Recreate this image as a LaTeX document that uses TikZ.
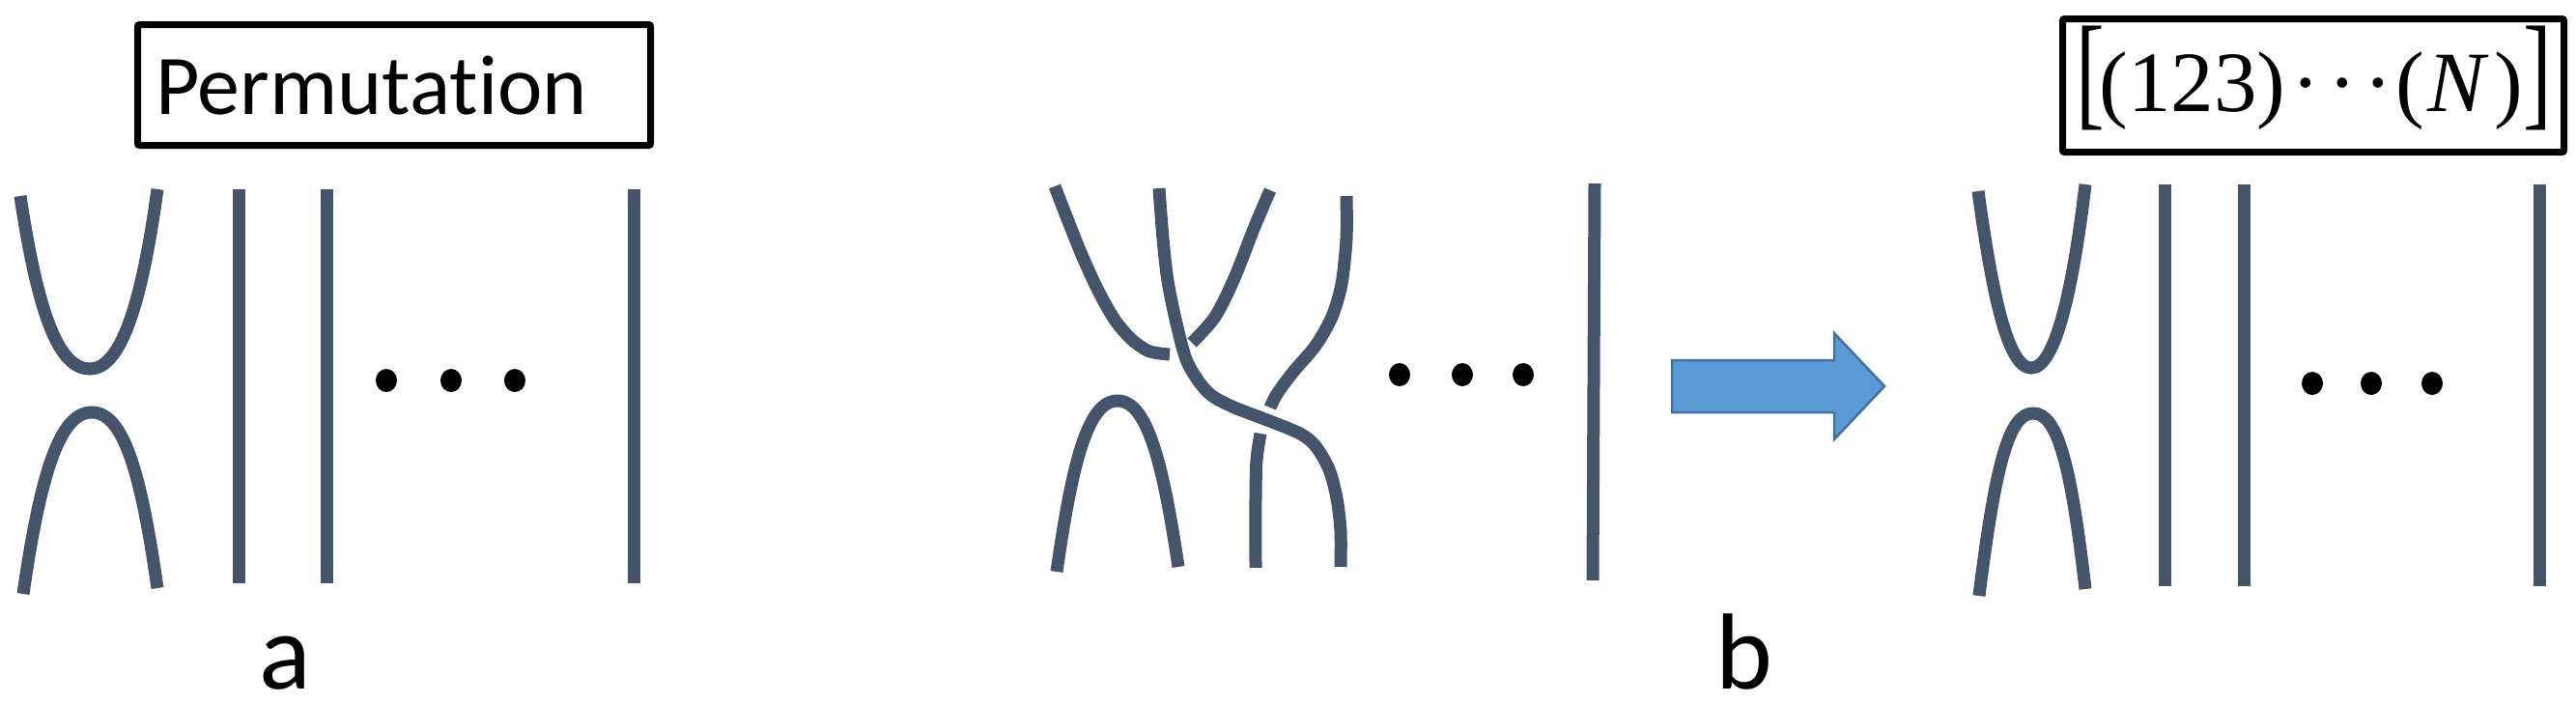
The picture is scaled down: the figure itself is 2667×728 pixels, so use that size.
\documentclass[tikz,border=0pt]{standalone}
\usepackage{fontspec}
\usepackage{graphicx}
\newfontfamily\calib[Ligatures={NoCommon},RawFeature={-liga;-dlig;-calt}]{Carlito}
\newfontfamily\tms{Liberation Serif}
\definecolor{strand}{HTML}{44546A}
\definecolor{arrowfill}{HTML}{5B9BD5}
\definecolor{arrowline}{HTML}{41719C}
\newcommand\brL{\raisebox{-2.5pt}{\scalebox{1}[1.466]{[}}}
\newcommand\brR{\raisebox{-2.5pt}{\scalebox{1}[1.466]{]}}}
\begin{document}
\begin{tikzpicture}[x=1pt,y=-1pt,
  strandline/.style={draw=strand,line width=13pt},
  boxline/.style={draw=black,line width=7pt,rounded corners=2pt},
  dotmark/.style={fill=black},
  labeltext/.style={font=\calib\fontsize{112}{120}\selectfont,anchor=base,inner sep=0pt,text depth=0pt}]
\useasboundingbox (0,0) rectangle (2667,728);

% ---------- panel a ----------
\draw[boxline] (142.5,25.5) rectangle (673.5,150.5);
\node[anchor=base west,inner sep=0pt,font=\calib\fontsize{88}{100}\selectfont] (perm) at (161,118) {Permutat\kern0pt ion};
\draw[strandline] (21,203) .. controls (40,330) and (62,382) .. (93,382) .. controls (124,382) and (146,320) .. (163,196);
\draw[strandline] (24,615) .. controls (42,490) and (62,427) .. (95,427) .. controls (128,427) and (146,490) .. (163,609);
\draw[strandline] (247,196) -- (247,604);
\draw[strandline] (338,196) -- (338,604);
\draw[strandline] (656,196) -- (656,604);
\fill[dotmark] (400,394) ellipse [x radius=11pt, y radius=12pt];
\fill[dotmark] (467,394) ellipse [x radius=11pt, y radius=12pt];
\fill[dotmark] (533,394) ellipse [x radius=11pt, y radius=12pt];
\node[labeltext] (la) at (295,713) {a};

% ---------- panel b ----------
\draw[strandline] plot[smooth] coordinates {(1092,193) (1104,224) (1120,264) (1137,301) (1154,331) (1171,351) (1188,363) (1201,366) (1211,367)};
\draw[strandline] plot[smooth] coordinates {(1315,197) (1298,237) (1278,288) (1258,328) (1234,355)};
\draw[strandline] plot[smooth] coordinates {(1394,203) (1394,247) (1389,294) (1379,328) (1362,358) (1339,385) (1322,408) (1315,422)};
\draw[strandline] plot[smooth] coordinates {(1305,449) (1301,476) (1300,516) (1300,588)};
\draw[strandline] plot[smooth] coordinates {(1200,195) (1204,247) (1209,291) (1218,335) (1228,372) (1241,395) (1255,410) (1278,422) (1312,435) (1346,449) (1362,462) (1376,486) (1384,516) (1388,550) (1388,587)};
\draw[strandline] (1094,592) .. controls (1110,480) and (1126,415) .. (1157,415) .. controls (1188,415) and (1204,480) .. (1220,587);
\draw[strandline] (1651,190) -- (1649,601);
\fill[dotmark] (1449,388) ellipse [x radius=11pt, y radius=12pt];
\fill[dotmark] (1514,388) ellipse [x radius=11pt, y radius=12pt];
\fill[dotmark] (1577,388) ellipse [x radius=11pt, y radius=12pt];
\node[labeltext] (lb) at (1806,713) {b};

% arrow
\draw[fill=arrowfill,draw=arrowline,line width=2.5pt,line join=miter] (1731,373) -- (1899,373) -- (1899,345) -- (1951,400) -- (1899,455) -- (1899,427) -- (1731,427) -- cycle;

% ---------- panel c ----------
\draw[boxline] (2135.5,19.5) rectangle (2654.5,157.5);
\node[anchor=base west,inner sep=0pt,font=\tms\fontsize{89}{100}\selectfont] (cyc) at (2149,115)
  {\brL\kern-5pt(123)\kern6pt\char"00B7\kern8pt\char"00B7\kern8pt\char"00B7\kern3pt(\kern3pt\textit{N}\kern6pt)\brR};
\draw[strandline] (2048,198) .. controls (2062,300) and (2078,381) .. (2103,381) .. controls (2128,381) and (2146,300) .. (2159,191);
\draw[strandline] (2049,617) .. controls (2066,480) and (2080,428) .. (2105,428) .. controls (2130,428) and (2144,480) .. (2159,610);
\draw[strandline] (2241,191) -- (2241,607);
\draw[strandline] (2323,191) -- (2323,607);
\draw[strandline] (2629,191) -- (2629,607);
\fill[dotmark] (2394,397) ellipse [x radius=11pt, y radius=12pt];
\fill[dotmark] (2455,397) ellipse [x radius=11pt, y radius=12pt];
\fill[dotmark] (2518,397) ellipse [x radius=11pt, y radius=12pt];
\end{tikzpicture}
\end{document}
